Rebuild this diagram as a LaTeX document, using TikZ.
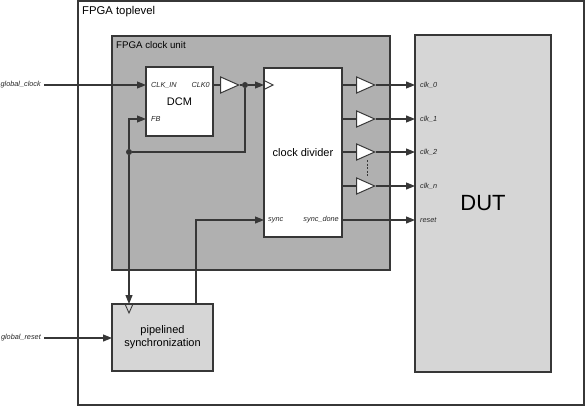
\documentclass[tikz,border=0pt]{standalone}
\usepackage{fontspec}
\setmainfont{Liberation Sans}
\usepackage{tikz}
\usetikzlibrary{shapes.geometric, arrows.meta, calc}
\definecolor{edge}{RGB}{55, 55, 55}
\definecolor{unitgray}{RGB}{176, 176, 176}
\definecolor{dutgray}{RGB}{214, 214, 214}
\tikzset{
    block/.style={rectangle, draw=edge, line width=1.3pt, outer sep=0pt, inner sep=0pt, anchor=north west, text centered, font=\fontsize{11}{13}\selectfont},
    portlabel/.style={font=\fontsize{7.3}{8}\selectfont\itshape, inner sep=1pt, text=black!85},
    buffer/.style={isosceles triangle, isosceles triangle stretches, draw=edge, fill=white, line width=1pt, inner sep=0pt, minimum width=16pt, minimum height=18pt, anchor=apex},
    wire/.style={draw=edge, line width=1.1pt},
    line/.style={wire, -{Triangle[length=9pt, width=7pt]}},
    junction/.style={circle, fill=edge, inner sep=0pt, minimum size=6pt},
    clkmark/.style={draw=edge, line width=0.9pt}
}

\begin{document}
\begin{tikzpicture}[x=1pt, y=-1pt]
        \useasboundingbox (0,0) rectangle (585,406);

        % Toplevel and clock unit
        \node [block, fill=white, minimum width=506pt, minimum height=404pt] (toplevel) at (78,1) {};
        \node [anchor=base west, inner sep=0pt, font=\fontsize{11.3}{13}\selectfont] (toplabel) at (82,15) {FPGA toplevel};
        \node [block, fill=unitgray, minimum width=278pt, minimum height=234pt] (unit) at (112,36) {};
        \node [anchor=base west, inner sep=0pt, font=\fontsize{9.7}{11}\selectfont] (unitlabel) at (116,49) {FPGA clock unit};

        % Blocks
        \node [block, fill=white, minimum width=67pt, minimum height=69pt] (dcm) at (146,67) {DCM};
        \node [block, fill=white, minimum width=78pt, minimum height=169pt] (divider) at (264,68) {clock divider};
        \node [block, fill=dutgray, minimum width=101pt, minimum height=67pt, align=center] (pipesync) at (112,304) {pipelined\\synchronization};
        \node [block, fill=dutgray, minimum width=136pt, minimum height=337pt, font=\fontsize{22}{24}\selectfont] (dut) at (415,35) {DUT};

        % Port labels
        \node [portlabel, anchor=west] (clkin) at (150,85) {CLK\_IN};
        \node [portlabel, anchor=east] (clkout) at (211,85) {CLK0};
        \node [portlabel, anchor=west] (fb) at (150,119) {FB};
        \node [portlabel, anchor=west] (syncin) at (267,220) {sync};
        \node [portlabel, anchor=east] (syncdone) at (340,220) {sync\_done};
        \node [portlabel, anchor=east] (gclk) at (42,85) {global\_clock};
        \node [portlabel, anchor=east] (grst) at (42,338) {global\_reset};

        % Buffers and junctions
        \node [buffer] (buf0) at (240,85) {};
        \foreach \y [count=\n] in {85, 119, 152, 186}
            \node [buffer] (obuf\n) at (376,\y) {};
        \node [junction] (j1) at (245,85) {};
        \node [junction] (j2) at (129,152) {};

        % Clock path
        \draw [line, shorten <=2pt] (gclk.east) -- (gclk.east -| dcm.west);
        \draw [wire] (dcm.east |- buf0.west) -- (buf0.west);
        \draw [wire] (buf0.apex) -- (j1);
        \draw [line] (j1) -- (j1 -| divider.west);
        \draw [wire] (j1) |- (j2);
        \draw [line] (j2) |- (fb.west -| dcm.west);
        \draw [line] (j2) -- (j2 |- pipesync.north);

        % Clock inputs
        \draw [clkmark] ($(divider.west |- j1)+(0,-4.5)$) -- ++(9,4.5) -- ++(-9,4.5);
        \draw [clkmark] ($(pipesync.north -| j2)+(-4,0)$) -- ++(4,9) -- ++(4,-9);

        % Divided clocks
        \foreach \n/\lbl in {1/clk\_0, 2/clk\_1, 3/clk\_2, 4/clk\_n} {
            \draw [wire] (obuf\n.west -| divider.east) -- (obuf\n.west);
            \draw [line] (obuf\n.apex) -- (obuf\n.apex -| dut.west);
            \node [portlabel, anchor=west] (port\n) at ($(obuf\n.apex -| dut.west)+(4,0)$) {\lbl};
        }
        \draw [draw=edge, line width=0.8pt, dash pattern=on 2pt off 1.5pt] ($(obuf3.apex)+(-9,8)$) -- ($(obuf4.apex)+(-9,-10)$);

        % Reset path
        \draw [line, shorten <=2pt] (grst.east) -- (grst.east -| pipesync.west);
        \draw [line] ($(pipesync.north east)+(-17,0)$) |- (divider.west |- syncin);
        \draw [line] (divider.east |- syncdone) -- (dut.west |- syncdone);
        \node [portlabel, anchor=west] (portrst) at ($(dut.west |- syncdone)+(4,0)$) {reset};

\end{tikzpicture}
\end{document}
